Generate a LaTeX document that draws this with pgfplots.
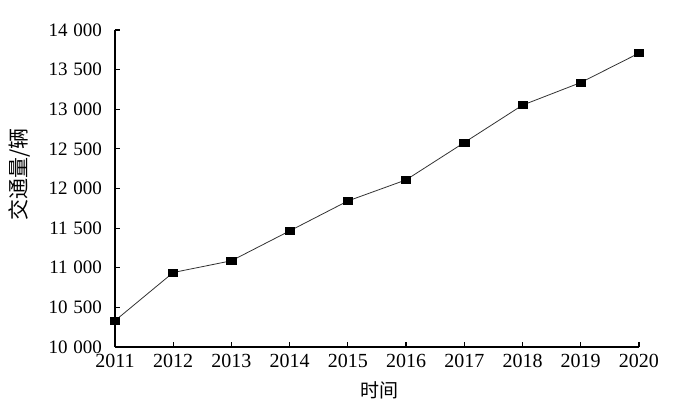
\documentclass[border=0pt]{standalone}
\usepackage{fontspec}
\setmainfont{Liberation Serif}
\newfontfamily\cjk{Noto Sans CJK SC}
\usepackage{pgfplots}
\pgfplotsset{compat=1.18}

\begin{document}
\begin{tikzpicture}
\begin{axis}[
    scale only axis,
    width=262pt, height=158.5pt,
    xmin=2011, xmax=2020,
    ymin=10000, ymax=14000,
    xtick={2011,2012,...,2020},
    ytick={10000,10500,...,14000},
    scaled y ticks=false,
    axis x line=bottom, axis y line=left,
    axis line style={-, line width=0.6pt},
    tick align=inside,
    major tick length=2.5pt,
    tick style={black, line width=0.6pt},
    /pgf/number format/assume math mode=true,
    xticklabel style={font=\fontsize{10}{12}\selectfont, /pgf/number format/1000 sep={}},
    yticklabel style={font=\fontsize{9.5}{11}\selectfont, /pgf/number format/1000 sep={\hspace{0.3em}}, xshift=-3pt},
    xlabel={\cjk 时间},
    ylabel={\cjk 交通量/辆},
    xlabel style={font=\fontsize{9.5}{11}\selectfont, at={(axis description cs:0.504,-0.136)}, anchor=center},
    ylabel style={font=\fontsize{10.5}{12}\selectfont, at={(axis description cs:-0.183,0.543)}, anchor=center},
]
\coordinate (o) at (rel axis cs:0,0);
\addplot[black!80, line width=0.4pt, mark=square*,
    mark size=1.7pt, mark options={xscale=1.35, fill=black, draw=black}]
    coordinates {
    (2011,10332) (2012,10940) (2013,11088) (2014,11465) (2015,11843)
    (2016,12109) (2017,12580) (2018,13052) (2019,13337) (2020,13708)
    };
\end{axis}
\path ([shift={(-57.5pt,-28.5pt)}]o) rectangle ([shift={(292.5pt,173.5pt)}]o);
\end{tikzpicture}
\end{document}
